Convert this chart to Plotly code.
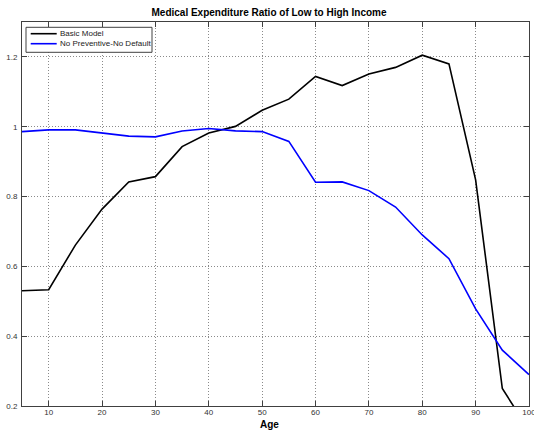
import plotly.graph_objects as go

# Age grid (years)
ages = [5, 10, 15, 20, 25, 30, 35, 40, 45, 50,
        55, 60, 65, 70, 75, 80, 85, 90, 95, 100]

# Ratio of medical expenditure, low- to high-income households
basic_model = [0.530, 0.533, 0.661, 0.764, 0.842, 0.857, 0.943, 0.982, 1.001, 1.047,
               1.079, 1.144, 1.118, 1.151, 1.170, 1.205, 1.180, 0.848, 0.250, 0.130]
no_preventive = [0.986, 0.991, 0.991, 0.982, 0.973, 0.971, 0.988, 0.995, 0.988, 0.986,
                 0.958, 0.841, 0.842, 0.817, 0.770, 0.690, 0.622, 0.478, 0.360, 0.290]

series_names = ["Basic Model", "No Preventive-No Default"]
series_colors = ["#000000", "#0000ff"]

x_ticks = [10, 20, 30, 40, 50, 60, 70, 80, 90, 100]
y_ticks = [0.2, 0.4, 0.6, 0.8, 1.0, 1.2]
y_tick_text = ["0.2", "0.4", "0.6", "0.8", "1", "1.2"]

FONT = "Liberation Sans, Arial, Helvetica, sans-serif"

fig = go.Figure()
for name, vals, col in zip(series_names, [basic_model, no_preventive], series_colors):
    fig.add_trace(go.Scatter(x=ages, y=vals, mode="lines", name=name,
                             line=dict(color=col, width=1.6), showlegend=False))

W, H = 534, 430
L, R, T, B = 22, 5, 22, 24
pw, ph = W - L - R, H - T - B


def px(xpix):
    return (xpix - L) / pw


def py(ypix):
    return (H - B - ypix) / ph


axis_common = dict(
    showline=True, linecolor="#404040", linewidth=1, mirror="ticks",
    ticks="inside", ticklen=5, tickcolor="#404040", tickwidth=1,
    showgrid=True, gridcolor="#8a8a8a", gridwidth=1, griddash="1px,2px",
    zeroline=False, tickfont=dict(family=FONT, size=8, color="#333333"),
    ticklabeloverflow="allow", automargin=False,
)

fig.update_xaxes(range=[5, 100], tickvals=x_ticks, ticklabelstandoff=-2, **axis_common)
fig.update_yaxes(range=[0.2, 1.3], tickvals=y_ticks, ticktext=y_tick_text,
                 ticklabelstandoff=2, **axis_common)

# Legend box drawn in paper coordinates
shapes = [dict(type="rect", xref="paper", yref="paper",
               x0=px(26), x1=px(152), y0=py(52.3), y1=py(27.3),
               line=dict(color="#404040", width=1), fillcolor="white", layer="above")]
annotations = []
for i, (name, col) in enumerate(zip(series_names, series_colors)):
    yrow = 33.7 + 10 * i
    shapes.append(dict(type="line", xref="paper", yref="paper",
                       x0=px(30.7), x1=px(56.7), y0=py(yrow), y1=py(yrow),
                       line=dict(color=col, width=1.6), layer="above"))
    annotations.append(dict(xref="paper", yref="paper", x=px(58.3), y=py(yrow),
                            xanchor="left", yanchor="middle", showarrow=False,
                            text=name, font=dict(family=FONT, size=8, color="#222222")))

annotations.append(dict(xref="paper", yref="paper", x=px(269), y=py(424.5),
                        xanchor="center", yanchor="middle", showarrow=False,
                        text="<b>Age</b>", font=dict(family=FONT, size=10, color="#000000")))

fig.update_layout(
    width=W, height=H,
    margin=dict(l=L, r=R, t=T, b=B, autoexpand=False),
    paper_bgcolor="white", plot_bgcolor="white",
    title=dict(text="<b>Medical Expenditure Ratio of Low to High Income</b>",
               x=269 / W, xanchor="center", xref="container",
               y=1 - 12 / H, yanchor="middle", yref="container",
               font=dict(family=FONT, size=10, color="#000000")),
    shapes=shapes, annotations=annotations,
    showlegend=False,
)

fig.write_html("out.html")
